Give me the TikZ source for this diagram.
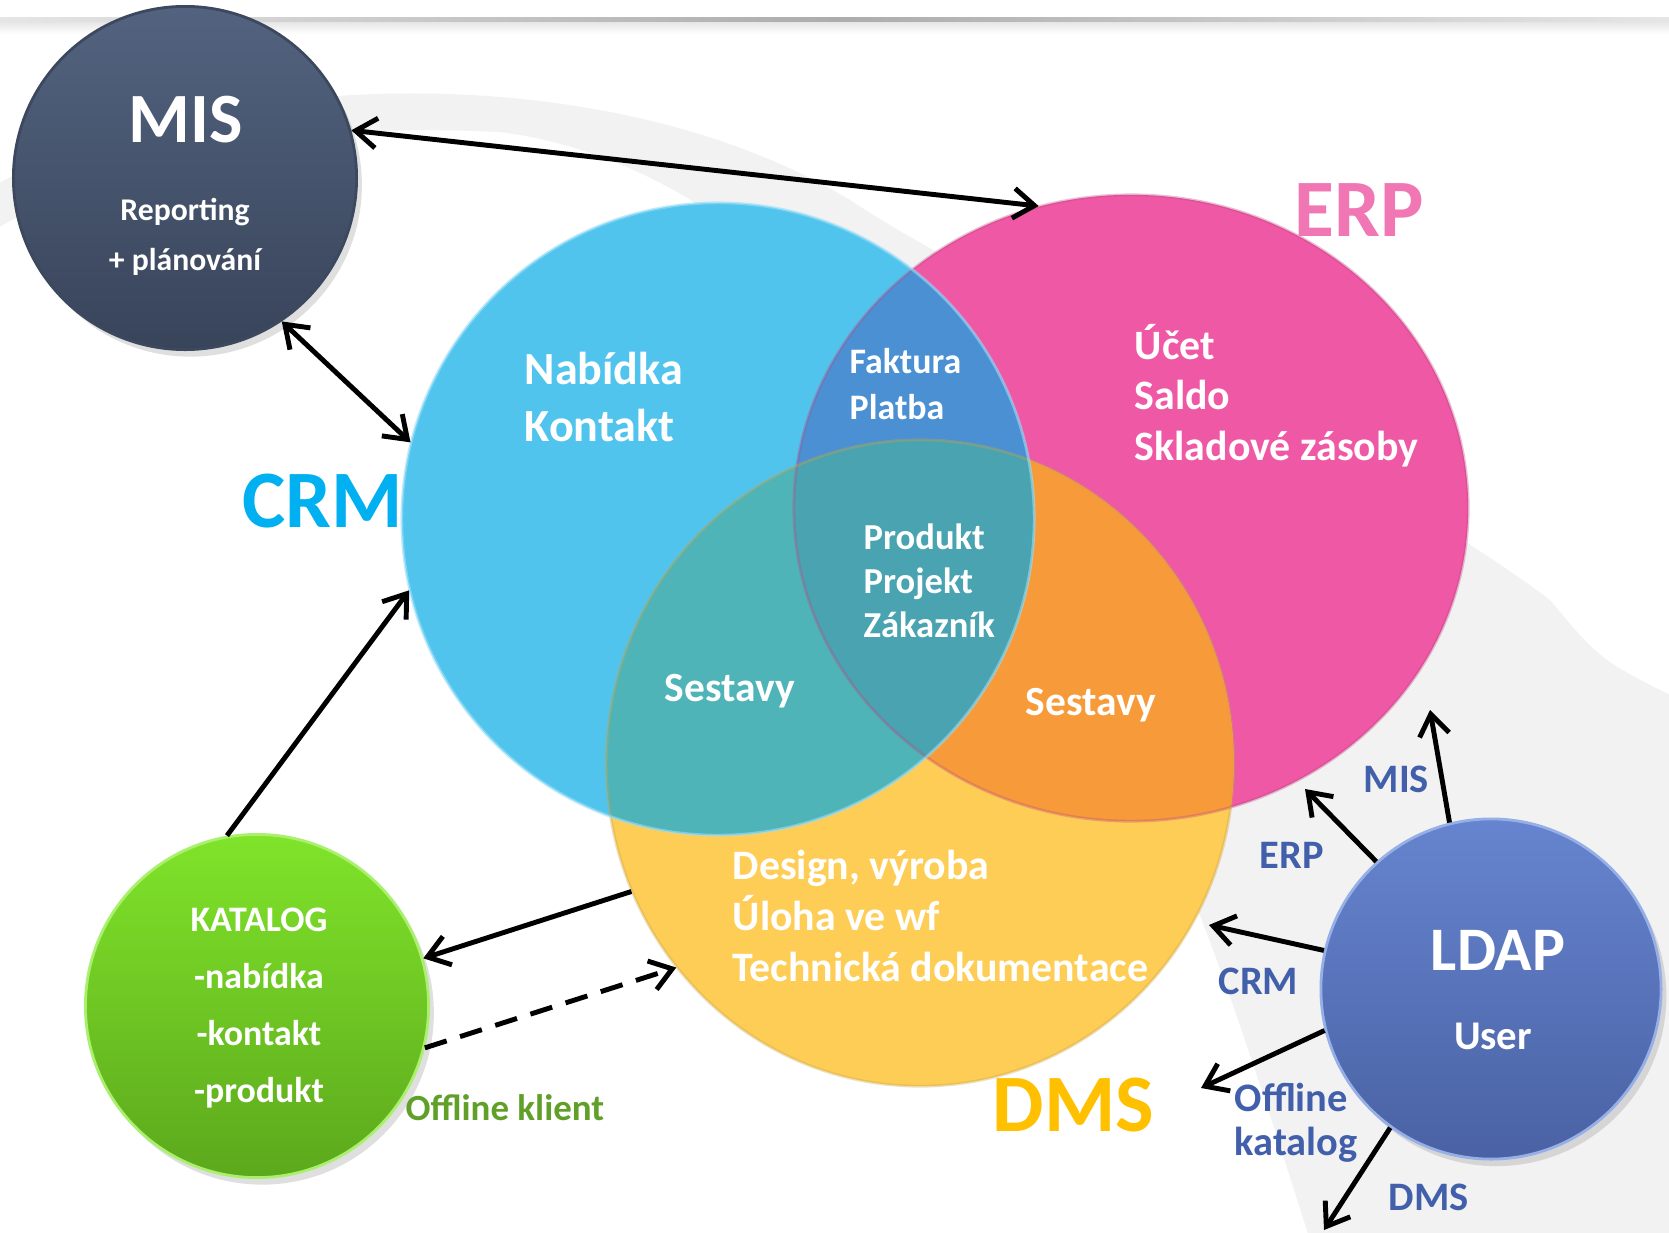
\documentclass[tikz,border=0pt]{standalone}
\usepackage{fontspec}
\setmainfont{Carlito}
\usetikzlibrary{arrows.meta, shapes.geometric, positioning, shadows}
\definecolor{crmblue}{RGB}{80,196,237}
\definecolor{erppink}{RGB}{239,88,164}
\definecolor{dmsyellow}{RGB}{254,205,86}
\definecolor{crmerp}{RGB}{74,144,210}
\definecolor{erpdms}{RGB}{247,155,58}
\definecolor{crmdms}{RGB}{78,180,184}
\definecolor{allthree}{RGB}{73,163,177}
\definecolor{crmtitle}{RGB}{0,176,240}
\definecolor{erptitle}{RGB}{240,118,180}
\definecolor{dmstitle}{RGB}{255,192,0}
\definecolor{ldapblue}{RGB}{65,95,170}
\definecolor{offgreen}{RGB}{96,160,40}
\newcommand{\crmshape}{(crm.center) circle[radius=3.16cm]}
\newcommand{\erpshape}{(erp.center) ellipse[x radius=3.37cm, y radius=3.13cm]}
\newcommand{\dmsshape}{(dms.center) ellipse[x radius=3.135cm, y radius=3.23cm]}
\newcommand{\fs}[2]{\fontsize{#1}{#2}\selectfont}
\tikzset{
>={Straight Barb[length=6pt,width=8.5pt]}, % open arrow heads
every node/.style={font=\bfseries, inner sep=0pt},
venn/.style={ellipse, inner sep=0pt, minimum size=0pt}, % only used for anchors
bubble/.style={circle, minimum size=3.43cm, line width=0.8pt, drop shadow={shadow xshift=1.5pt, shadow yshift=-2pt, opacity=0.25}},
intext/.style={white, align=left, anchor=base west}, % anchored at the last line
ldaptext/.style={ldapblue, anchor=base west, font=\bfseries\fs{11.5}{12.5}},
link/.style={->, line width=1.4pt},
}

\begin{document}
\begin{tikzpicture}[x=0.01cm, y=-0.01cm]
      \useasboundingbox (0,0) rectangle (1669,1233);
      \fill[white] (0,0) rectangle (1669,1233);
      % background swoosh and top line
      \fill[black!5] (-10,188) .. controls (200,70) and (600,50) .. (850,200)
        .. controls (1000,300) and (1350,450) .. (1550,600) .. controls (1600,660) .. (1680,700)
        -- (1680,1240) -- (1310,1240) .. controls (1250,1050) and (1200,900) .. (1150,800)
        .. controls (1000,500) and (800,170) .. (500,132) .. controls (250,120) and (100,170) .. (-10,232) -- cycle;
      \shade[left color=gray!20, right color=gray!20, middle color=gray!65] (0,17) rectangle (1669,22);
      \shade[top color=gray!20, bottom color=white] (0,22) rectangle (1669,34);

      \node[venn, minimum width=6.32cm, minimum height=6.32cm] (crm) at (718,519) {};
      \node[venn, minimum width=6.74cm, minimum height=6.26cm] (erp) at (1131,508) {};
      \node[venn, minimum width=6.27cm, minimum height=6.46cm] (dms) at (920,763) {};

      \fill[erppink] \erpshape;
      \fill[dmsyellow] \dmsshape;
      \fill[crmblue] \crmshape;
      \begin{scope}
        \clip \erpshape;
        \fill[erpdms] \dmsshape;
      \end{scope}
      \begin{scope}
        \clip \crmshape;
        \fill[crmerp] \erpshape;
        \fill[crmdms] \dmsshape;
        \clip \erpshape;
        \fill[allthree] \dmsshape;
      \end{scope}
      \draw[erppink!80!black, opacity=0.35, line width=0.8pt] \erpshape;
      \draw[dmsyellow!80!black, opacity=0.35, line width=0.8pt] \dmsshape;
      \draw[cyan!40, opacity=0.6, line width=0.8pt] \crmshape;

      \node[bubble, top color={rgb,255:red,83;green,99;blue,127}, bottom color={rgb,255:red,56;green,68;blue,90},
        draw={rgb,255:red,60;green,72;blue,94}] (mis) at (185,178) {};
      \node[bubble, top color={rgb,255:red,128;green,228;blue,42}, bottom color={rgb,255:red,92;green,168;blue,28},
        draw={rgb,255:red,170;green,240;blue,110}] (katalog) at (257,1006) {};
      \node[bubble, minimum size=3.40cm, top color={rgb,255:red,102;green,132;blue,207}, bottom color={rgb,255:red,74;green,98;blue,164},
        draw={rgb,255:red,150;green,175;blue,230}] (ldap) at (1491,989) {};

      % titles
      \node[crmtitle, anchor=base west, font=\bfseries\fs{23.2}{26}] (crmlabel) at (242,527) {CRM};
      \node[erptitle, anchor=base west, font=\bfseries\fs{23.2}{26}] (erplabel) at (1294,236) {ERP};
      \node[dmstitle, anchor=base west, font=\bfseries\fs{23.2}{26}] (dmslabel) at (992,1131) {DMS};

      % texts in the circles
      \node[white, anchor=base, font=\bfseries\fs{20.1}{22}] (mistitle) at (186,142) {MIS};
      \node[white, anchor=base, align=center, font=\bfseries\fs{9}{14.2}] (mistext) at (185,270) {Reporting\\+ plánování};
      \node[white, anchor=base, font=\bfseries\fs{17.6}{20}] (ldaptitle) at (1498,970) {LDAP};
      \node[white, anchor=base, font=\bfseries\fs{11.6}{13}] (ldapuser) at (1493,1049) {User};
      \node[white, anchor=base, align=center, font=\bfseries\fs{10.2}{16.2}] (katalogtext) at (259,1102) {KATALOG\\-nabídka\\-kontakt\\-produkt};

      \node[intext, font=\bfseries\fs{13.1}{16.2}] (crmtext) at (524,441) {Nabídka\\Kontakt};
      \node[intext, font=\bfseries\fs{10.2}{12.8}] (crmerptext) at (849,419) {Faktura\\Platba};
      \node[intext, font=\bfseries\fs{11.9}{14.3}] (erptext) at (1134,460) {Účet\\Saldo\\Skladové zásoby};
      \node[intext, font=\bfseries\fs{10.4}{12.5}] (alltext) at (863,637) {Produkt\\Projekt\\Zákazník};
      \node[intext, font=\bfseries\fs{11.8}{14}] (crmdmstext) at (664,701) {Sestavy};
      \node[intext, font=\bfseries\fs{11.8}{14}] (erpdmstext) at (1025,715) {Sestavy};
      \node[intext, font=\bfseries\fs{11.9}{14.5}] (dmstext) at (732,981) {Design, výroba\\Úloha ve wf\\Technická dokumentace};

      % connectors
      \coordinate (tomis) at (1430,710);
      \coordinate (toerp) at (1305,789);
      \coordinate (tocrm) at (1209,925);
      \coordinate (tooffline) at (1201,1088);
      \coordinate (todms) at (1324,1230);

      \draw[link, <->] (mis.16) -- (erp.107);
      \draw[link, <->] (mis.-56) -- (crm.166);
      \draw[link] (katalog.100) -- (crm.193);
      \draw[link] (dms.204) -- (katalog.16);
      \draw[link, dash pattern=on 6.5pt off 4pt] (katalog.-14) -- (dms.220);
      \draw[link] (ldap.104) -- (tomis);
      \draw[link] (ldap.132) -- (toerp);
      \draw[link] (ldap.167) -- (tocrm);
      \draw[link] (ldap.194) -- (tooffline);
      \draw[link] (ldap.234) -- (todms);

      \node[offgreen, anchor=base west, font=\bfseries\fs{10.5}{12}] (offline) at (405,1120) {Offline klient};
      \node[ldaptext] (lmis) at (1363,792) {MIS};
      \node[ldaptext] (lerp) at (1259,868) {ERP};
      \node[ldaptext] (lcrm) at (1218,994) {CRM};
      \node[ldaptext, align=left] (loffline) at (1234,1155) {Offline\\katalog};
      \node[ldaptext] (ldms) at (1388,1210) {DMS};
    \end{tikzpicture}
\end{document}
